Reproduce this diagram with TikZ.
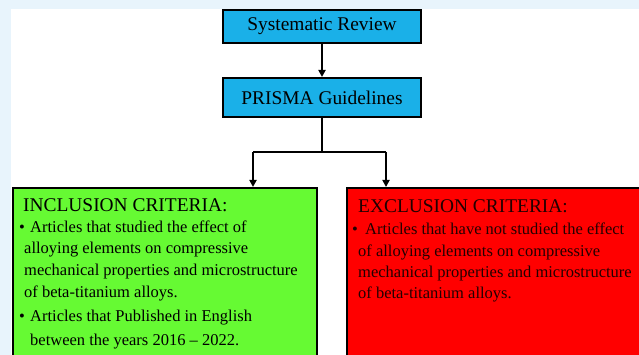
\documentclass[tikz,border=0pt]{standalone}
\usepackage{fontspec}
\setmainfont{Liberation Serif}
\usetikzlibrary{arrows.meta}
\definecolor{bgblue}{HTML}{E8F4FC}
\definecolor{boxblue}{HTML}{1AB0E8}
\definecolor{boxgreen}{HTML}{66FA33}
\definecolor{boxred}{HTML}{FF0000}
\definecolor{redtext}{HTML}{220000}
\tikzset{
  headbox/.style={draw=black, line width=2pt, fill=boxblue, minimum width=198pt, inner sep=0pt, font=\fontsize{19.4}{22}\selectfont},
  critbox/.style={draw=black, line width=2pt, inner sep=0pt},
  flow/.style={line width=2pt, -{Triangle[length=7pt,width=7pt]}},
  plain/.style={line width=2pt},
  headtxt/.style={anchor=base west, inner sep=0pt, font=\fontsize{19.4}{22}\selectfont},
  bodytxt/.style={anchor=base west, inner sep=0pt, font=\fontsize{16.5}{20}\selectfont},
}
\begin{document}
\begin{tikzpicture}[x=1pt,y=1pt]
\useasboundingbox (0,0) rectangle (639,355);
\clip (0,0) rectangle (639,355);
\fill[bgblue] (0,0) rectangle (639,355);
\fill[white] (11,0) rectangle (639,346);

\node[headbox, minimum height=33pt] (sr) at (322,328.5) {Systematic Review};
\node[headbox, minimum height=39pt] (pg) at (322,257.5) {PRISMA Guidelines};
\draw[flow] (sr.south) -- (pg.north);

\node[critbox, fill=boxgreen, minimum width=304pt, minimum height=190pt, anchor=north west] (inc) at (12,168) {};
\node[critbox, fill=boxred, minimum width=310pt, minimum height=190pt, anchor=north west] (exc) at (346,168) {};

\coordinate (j) at (322,203);
\coordinate (jl) at (253,203);
\coordinate (jr) at (386,203);
\draw[plain] (pg.south) -- (j);
\draw[plain] (jl) -- (jr);
\draw[flow] (jl) -- (jl |- inc.north);
\draw[flow] (jr) -- (jr |- exc.north);

% inclusion text
\node[headtxt] (i0) at (23,143) {INCLUSION CRITERIA:};
\node[bodytxt] (i1b) at (19,122) {•};
\node[bodytxt] (i1) at (30,122) {Articles that studied the effect of};
\node[bodytxt] (i2) at (24,101) {alloying elements on compressive};
\node[bodytxt] (i3) at (24,79) {mechanical properties and microstructure};
\node[bodytxt] (i4) at (24,57) {of beta-titanium alloys.};
\node[bodytxt] (i5b) at (19,33) {•};
\node[bodytxt] (i5) at (30,33) {Articles that Published in English};
\node[bodytxt] (i6) at (30,9) {between the years 2016 – 2022.};

% exclusion text
\begin{scope}[every node/.append style={text=redtext}]
\node[headtxt] (e0) at (358,142) {EXCLUSION CRITERIA:};
\node[bodytxt] (e1b) at (352,120) {•};
\node[bodytxt] (e1) at (365,120) {Articles that have not studied the effect};
\node[bodytxt] (e2) at (358,98) {of alloying elements on compressive};
\node[bodytxt] (e3) at (358,77) {mechanical properties and microstructure};
\node[bodytxt] (e4) at (358,56) {of beta-titanium alloys.};
\end{scope}
\end{tikzpicture}
\end{document}
